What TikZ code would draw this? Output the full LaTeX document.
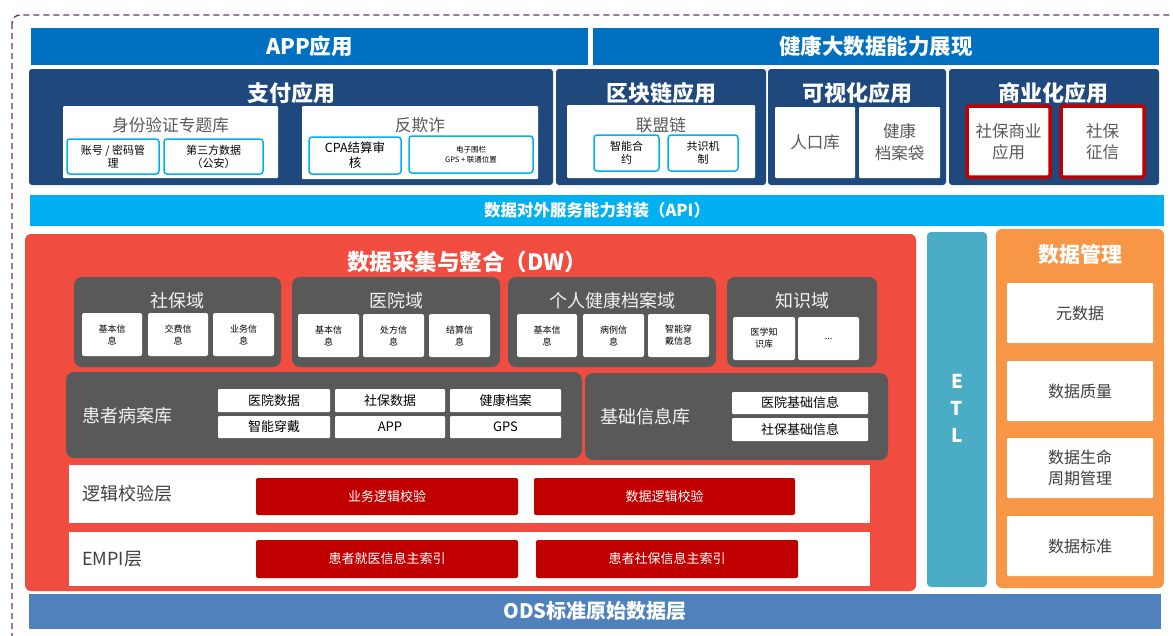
\documentclass[tikz,border=0pt]{standalone}
\usepackage{fontspec}
\setmainfont{Noto Sans CJK SC}
\newcommand\fsz[2]{\fontsize{#1pt}{#2pt}\selectfont}
\definecolor{topblue}{RGB}{0,112,192}
\definecolor{navy}{RGB}{31,73,125}
\definecolor{subblue}{RGB}{0,176,240}
\definecolor{apiblue}{RGB}{0,176,240}
\definecolor{dwred}{RGB}{240,76,64}
\definecolor{domgray}{RGB}{89,89,89}
\definecolor{domtxt}{RGB}{242,242,242}
\definecolor{graytxt}{RGB}{89,89,89}
\definecolor{darktxt}{RGB}{64,64,64}
\definecolor{darkred}{RGB}{192,0,0}
\definecolor{etlblue}{RGB}{75,172,198}
\definecolor{orange1}{RGB}{247,150,70}
\definecolor{odsblue}{RGB}{79,129,189}
\definecolor{purp}{RGB}{112,52,112}
\newcommand\mybox[7]{\node[#2, inner sep=0pt, outer sep=0pt, minimum width={(#5)-(#3)}, minimum height={(#6)-(#4)}] (#1) at ({((#3)+(#5))/2},{((#4)+(#6))/2}) {#7};}
\tikzset{
 bar/.style={fill=topblue, text=white, font=\bfseries\fsz{21.5}{25}},
 panel/.style={fill=navy, rounded corners=3pt},
 ptitle/.style={text=white, font=\bfseries\fsz{22}{26}, inner sep=0pt},
 wbox/.style={fill=white, rounded corners=1pt},
 wtitle/.style={text=graytxt, font=\fsz{16.7}{20}, inner sep=0pt},
 bsub/.style={draw=subblue, line width=1.5pt, fill=white, rounded corners=3pt, align=center, font=\fsz{11}{13}, text=black},
 vbox/.style={fill=white, rounded corners=1pt, align=center, text=graytxt, font=\fsz{16.5}{22}},
 rbox/.style={draw=darkred, line width=3.5pt, fill=white, rounded corners=2pt, align=center, text=graytxt, font=\fsz{16.5}{21}},
 apibar/.style={fill=apiblue, text=white, font=\bfseries\fsz{16.5}{19}},
 dwpanel/.style={fill=dwred, rounded corners=6pt},
 dwtitle/.style={text=white, font=\bfseries\fsz{22.5}{26}, inner sep=0pt},
 dom/.style={fill=domgray, rounded corners=8pt},
 domtitle/.style={text=domtxt, font=\fsz{18}{22}, inner sep=0pt},
 dsub/.style={fill=white, rounded corners=2pt, align=center, font=\fsz{9}{12}, text=black},
 gbox/.style={fill=white, rounded corners=1pt, font=\fsz{13}{16}, text=black},
 lbl/.style={anchor=west, inner sep=0pt, text=domtxt, font=\fsz{18}{22}},
 layer/.style={fill=white},
 layerlbl/.style={anchor=west, inner sep=0pt, text=darktxt, font=\fsz{18}{22}},
 redbox/.style={fill=darkred, rounded corners=2pt, text=white, font=\fsz{13}{16}},
 etlbar/.style={fill=etlblue, rounded corners=4pt},
 etltext/.style={text=white, font=\bfseries\fsz{19}{27}, align=center, inner sep=0pt},
 mgmt/.style={fill=orange1, rounded corners=6pt},
 mgtitle/.style={text=white, font=\bfseries\fsz{21}{25}, inner sep=0pt},
 mbox/.style={fill=white, rounded corners=1pt, align=center, text=darktxt, font=\fsz{16}{21}},
 odsbar/.style={fill=odsblue, text=white, font=\bfseries\fsz{20}{24}},
 frame/.style={draw=purp, dash pattern=on 6pt off 4pt, line width=1.4pt, rounded corners=8pt},
}
\begin{document}
\begin{tikzpicture}[x=1pt,y=-1pt]
\useasboundingbox (0,0) rectangle (1173,635);
\clip (0,0) rectangle (1173,635);
\fill[white] (0,0) rectangle (1173,635);
\draw[frame] (12,15) rectangle (1195,660);

% top bars
\mybox{app}{bar}{31}{28}{588}{65}{APP应用}
\mybox{health}{bar}{593}{28}{1159}{65}{健康大数据能力展现}

% application panels
\mybox{pay}{panel}{29}{69}{553}{185}{}
\mybox{chain}{panel}{556}{69}{766}{185}{}
\mybox{vis}{panel}{768}{69}{946}{185}{}
\mybox{biz}{panel}{949}{69}{1159}{185}{}
\node[ptitle] (payt) at (291,93) {支付应用};
\node[ptitle] (chaint) at (661,93) {区块链应用};
\node[ptitle] (vist) at (857,93) {可视化应用};
\node[ptitle] (bizt) at (1053,93) {商业化应用};

\mybox{idv}{wbox}{63}{106}{278}{178}{}
\node[wtitle] (idvt) at (170.5,125) {身份验证专题库};
\mybox{acct}{bsub}{67}{139}{159}{174}{账号 / 密码管\\理}
\mybox{third}{bsub}{164}{139}{263}{174}{第三方数据\\（公安）}

\mybox{fraud}{wbox}{302}{106}{538}{179}{}
\node[wtitle] (fraudt) at (420,125) {反欺诈};
\mybox{cpa}{bsub, font=\fsz{12.5}{15}}{309}{137}{401}{174}{CPA结算审\\核}
\mybox{fence}{bsub, font=\fsz{7.5}{10}}{409}{136}{533}{173}{电子围栏\\GPS + 联通位置}

\mybox{alliance}{wbox}{567}{105}{755}{178}{}
\node[wtitle] (alliancet) at (661,125) {联盟链};
\mybox{smart}{bsub}{594}{135}{659}{171}{智能合\\约}
\mybox{consensus}{bsub}{668}{135}{738}{171}{共识机\\制}

\mybox{pop}{vbox}{775}{107}{855}{178}{人口库}
\mybox{hfile}{vbox}{859}{107}{940}{178}{健康\\档案袋}
\mybox{sbiz}{rbox}{967}{106}{1050}{177}{社保商业\\应用}
\mybox{credit}{rbox}{1061}{106}{1144}{177}{社保\\征信}

% API
\mybox{api}{apibar}{30}{195}{1164}{226}{数据对外服务能力封装（API）}

% DW
\mybox{dw}{dwpanel}{25}{234}{916}{591}{}
\node[dwtitle] (dwt) at (467,262) {数据采集与整合（DW）};

\mybox{ssd}{dom}{74}{277}{281}{367}{}
\node[domtitle] (ssdt) at (177,301) {社保域};
\mybox{ssd1}{dsub}{82}{313}{142}{356}{基本信\\息}
\mybox{ssd2}{dsub}{148}{313}{208}{356}{交费信\\息}
\mybox{ssd3}{dsub}{213}{313}{274}{356}{业务信\\息}

\mybox{hosd}{dom}{292}{277}{500}{367}{}
\node[domtitle] (hosdt) at (396,301) {医院域};
\mybox{hosd1}{dsub}{298}{314}{359}{357}{基本信\\息}
\mybox{hosd2}{dsub}{363}{314}{424}{357}{处方信\\息}
\mybox{hosd3}{dsub}{429}{314}{490}{357}{结算信\\息}

\mybox{phrd}{dom}{508}{277}{716}{367}{}
\node[domtitle] (phrdt) at (612,301) {个人健康档案域};
\mybox{phrd1}{dsub}{517}{314}{577}{357}{基本信\\息}
\mybox{phrd2}{dsub}{583}{314}{644}{357}{病例信\\息}
\mybox{phrd3}{dsub}{648}{314}{709}{357}{智能穿\\戴信息}

\mybox{kd}{dom}{727}{277}{877}{367}{}
\node[domtitle] (kdt) at (802,301) {知识域};
\mybox{kd1}{dsub}{733}{317}{795}{360}{医学知\\识库}
\mybox{kd2}{dsub}{798}{317}{859}{360}{...}

\mybox{prec}{dom}{66}{372}{582}{458}{}
\node[lbl] (prect) at (82,416) {患者病案库};
\mybox{pr1}{gbox}{218}{389}{330}{412}{医院数据}
\mybox{pr2}{gbox}{335}{389}{445}{412}{社保数据}
\mybox{pr3}{gbox}{450}{389}{561}{412}{健康档案}
\mybox{pr4}{gbox}{218}{416}{330}{438}{智能穿戴}
\mybox{pr5}{gbox}{335}{416}{445}{438}{APP}
\mybox{pr6}{gbox}{450}{416}{561}{438}{GPS}

\mybox{binfo}{dom}{585}{373}{888}{460}{}
\node[lbl] (binfot) at (600,417) {基础信息库};
\mybox{bi1}{gbox}{732}{392}{868}{414}{医院基础信息}
\mybox{bi2}{gbox}{732}{418}{868}{441}{社保基础信息}

\mybox{logic}{layer}{69}{465}{870}{523}{}
\node[layerlbl] (logict) at (82,494) {逻辑校验层};
\mybox{lg1}{redbox}{256}{478}{518}{515}{业务逻辑校验}
\mybox{lg2}{redbox}{534}{478}{795}{515}{数据逻辑校验}

\mybox{empi}{layer}{69}{532}{870}{586}{}
\node[layerlbl] (empit) at (82,559) {EMPI层};
\mybox{em1}{redbox}{256}{540}{518}{578}{患者就医信息主索引}
\mybox{em2}{redbox}{536}{540}{798}{578}{患者社保信息主索引}

% ETL
\mybox{etl}{etlbar}{927}{232}{987}{587}{}
\node[etltext] (etlt) at (957,408) {E\\T\\L};

% data management
\mybox{dm}{mgmt}{996}{229}{1164}{588}{}
\node[mgtitle] (dmt) at (1080,254) {数据管理};
\mybox{dm1}{mbox}{1007}{283}{1153}{343}{元数据}
\mybox{dm2}{mbox}{1007}{361}{1153}{421}{数据质量}
\mybox{dm3}{mbox}{1007}{438}{1153}{498}{数据生命\\周期管理}
\mybox{dm4}{mbox}{1007}{516}{1153}{576}{数据标准}

% ODS
\mybox{ods}{odsbar}{29}{594}{1161}{629}{ODS标准原始数据层}
\end{tikzpicture}
\end{document}
